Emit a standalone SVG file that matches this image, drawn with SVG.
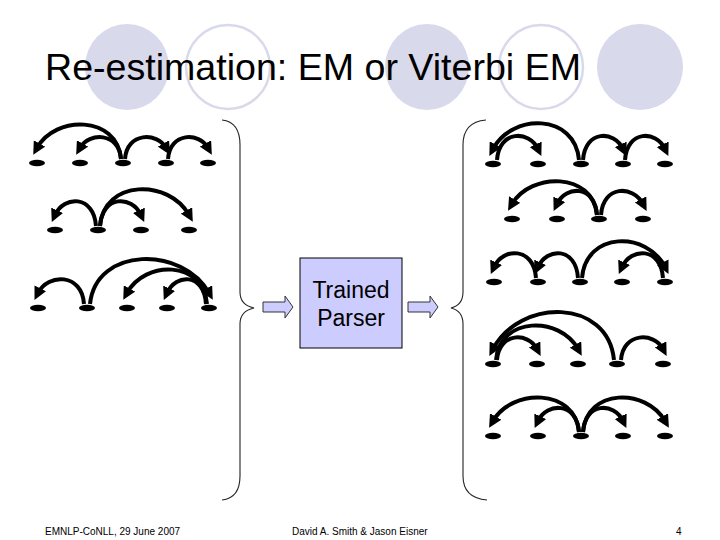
<svg xmlns="http://www.w3.org/2000/svg" width="720" height="540" viewBox="0 0 720 540">
<defs>
<style>
.t{font-family:"Liberation Sans",Arial,sans-serif;fill:#000}
.arc{fill:none;stroke:#000;stroke-width:4;marker-end:url(#ah)}
.d{fill:#000}
.cf{fill:#d9d9ec}
.co{fill:#fff;stroke:#d9d9ec;stroke-width:2.5}
.br{fill:none;stroke:#222;stroke-width:1.1}
.blk{fill:#ccccff;stroke:#333;stroke-width:1}
</style>
<marker id="ah" viewBox="0 0 10 10" refX="4" refY="5" markerWidth="13" markerHeight="13" markerUnits="userSpaceOnUse" orient="auto">
<path d="M0,0 L10,5 L0,10 z" fill="#000"/>
</marker>
</defs>
<rect width="720" height="540" fill="#fff"/>
<g id="title">
<ellipse class="cf" cx="127" cy="67" rx="42" ry="43"/>
<ellipse class="co" cx="228" cy="67" rx="42" ry="42"/>
<ellipse class="cf" cx="427" cy="67" rx="42" ry="43"/>
<ellipse class="co" cx="541" cy="67" rx="42" ry="42"/>
<ellipse class="cf" cx="640" cy="67" rx="43" ry="43"/>
<text class="t" x="45" y="80" font-size="37.6">Re-estimation: EM or Viterbi EM</text>
</g>
<g id="left-brace"><path class="br" d="M222,120 Q240,122 240,145 L240,292 Q240,305 254,308 Q240,311 240,324 L240,476 Q240,498 222,500"/></g>
<g id="right-brace"><path class="br" d="M486,120 Q463,122 463,145 L463,292 Q463,305 451,308 Q463,311 463,324 L463,476 Q463,498 487,500"/></g>
<g id="arrow-in"><path class="blk" d="M263,302 L285,302 L285,296 L293,307 L285,318 L285,312 L263,312 z"/></g>
<g id="parser">
<rect x="300" y="258" width="102" height="90" fill="#ccccff" stroke="#000" stroke-width="1"/>
<text class="t" x="351" y="298" font-size="23" text-anchor="middle">Trained</text>
<text class="t" x="351" y="326" font-size="23" text-anchor="middle">Parser</text>
</g>
<g id="arrow-out"><path class="blk" d="M408,302 L430,302 L430,296 L438,307 L430,318 L430,312 L408,312 z"/></g>
<g id="nodes">
<g id="L1"><ellipse class="d" cx="37" cy="163" rx="8" ry="3.2"/><ellipse class="d" cx="80" cy="163" rx="8" ry="3.2"/><ellipse class="d" cx="123" cy="163" rx="8" ry="3.2"/><ellipse class="d" cx="166" cy="163" rx="8" ry="3.2"/><ellipse class="d" cx="208" cy="163" rx="8" ry="3.2"/></g>
<g id="L2"><ellipse class="d" cx="55" cy="230" rx="8" ry="3.2"/><ellipse class="d" cx="98" cy="230" rx="8" ry="3.2"/><ellipse class="d" cx="141" cy="230" rx="8" ry="3.2"/><ellipse class="d" cx="189" cy="230" rx="8" ry="3.2"/></g>
<g id="L3"><ellipse class="d" cx="38" cy="308" rx="8" ry="3.2"/><ellipse class="d" cx="87" cy="308" rx="8" ry="3.2"/><ellipse class="d" cx="127" cy="308" rx="8" ry="3.2"/><ellipse class="d" cx="167" cy="308" rx="8" ry="3.2"/><ellipse class="d" cx="209" cy="308" rx="8" ry="3.2"/></g>
<g id="R1"><ellipse class="d" cx="493" cy="164" rx="8" ry="3.2"/><ellipse class="d" cx="538" cy="164" rx="8" ry="3.2"/><ellipse class="d" cx="581" cy="164" rx="8" ry="3.2"/><ellipse class="d" cx="623" cy="164" rx="8" ry="3.2"/><ellipse class="d" cx="665" cy="164" rx="8" ry="3.2"/></g>
<g id="R2"><ellipse class="d" cx="512" cy="219" rx="8" ry="3.2"/><ellipse class="d" cx="557" cy="219" rx="8" ry="3.2"/><ellipse class="d" cx="599" cy="219" rx="8" ry="3.2"/><ellipse class="d" cx="643" cy="219" rx="8" ry="3.2"/></g>
<g id="R3"><ellipse class="d" cx="494" cy="282" rx="8" ry="3.2"/><ellipse class="d" cx="538" cy="282" rx="8" ry="3.2"/><ellipse class="d" cx="580" cy="282" rx="8" ry="3.2"/><ellipse class="d" cx="622" cy="282" rx="8" ry="3.2"/><ellipse class="d" cx="665" cy="282" rx="8" ry="3.2"/></g>
<g id="R4"><ellipse class="d" cx="493" cy="364" rx="8" ry="3.2"/><ellipse class="d" cx="537" cy="364" rx="8" ry="3.2"/><ellipse class="d" cx="578" cy="364" rx="8" ry="3.2"/><ellipse class="d" cx="617" cy="364" rx="8" ry="3.2"/><ellipse class="d" cx="663" cy="364" rx="8" ry="3.2"/></g>
<g id="R5"><ellipse class="d" cx="493" cy="436" rx="8" ry="3.2"/><ellipse class="d" cx="538" cy="436" rx="8" ry="3.2"/><ellipse class="d" cx="581" cy="436" rx="8" ry="3.2"/><ellipse class="d" cx="623" cy="436" rx="8" ry="3.2"/><ellipse class="d" cx="665" cy="436" rx="8" ry="3.2"/></g>
</g>
<g id="connectors">
<path class="arc" d="M121,159 C117,115 55,115 37,148"/>
<path class="arc" d="M121,159 C119,132 89,132 80,148"/>
<path class="arc" d="M125,159 C127,132 157,132 166,148"/>
<path class="arc" d="M168,159 C170,132 199,132 208,148"/>
<path class="arc" d="M96,226 C94,195 64,195 55,215"/>
<path class="arc" d="M100,226 C102,195 132,195 141,215"/>
<path class="arc" d="M100,226 C104,179 169,179 189,215"/>
<path class="arc" d="M84,304 C82,273 48,273 38,293"/>
<path class="arc" d="M90,304 C96,246 183,246 209,293"/>
<path class="arc" d="M207,304 C203,260 145,260 127,293"/>
<path class="arc" d="M206,304 C204,273 176,273 167,293"/>
<path class="arc" d="M579,160 C575,113 512,113 493,149"/>
<path class="arc" d="M497,160 C499,130 529,130 538,149"/>
<path class="arc" d="M583,160 C585,130 614,130 623,149"/>
<path class="arc" d="M625,160 C627,130 656,130 665,149"/>
<path class="arc" d="M597,215 C593,172 531,172 512,204"/>
<path class="arc" d="M597,215 C595,185 566,185 557,204"/>
<path class="arc" d="M601,215 C603,185 633,185 643,204"/>
<path class="arc" d="M536,278 C534,247 503,247 494,267"/>
<path class="arc" d="M578,278 C576,247 547,247 538,267"/>
<path class="arc" d="M582,278 C586,231 647,231 665,267"/>
<path class="arc" d="M663,278 C661,247 631,247 622,267"/>
<path class="arc" d="M614,360 C608,298 520,298 493,349"/>
<path class="arc" d="M496,360 C500,316 560,316 578,349"/>
<path class="arc" d="M497,360 C499,332 528,332 537,349"/>
<path class="arc" d="M621,360 C623,332 654,332 663,349"/>
<path class="arc" d="M579,432 C575,388 512,388 493,421"/>
<path class="arc" d="M579,432 C577,402 547,402 538,421"/>
<path class="arc" d="M583,432 C585,402 614,402 623,421"/>
<path class="arc" d="M583,432 C587,388 646,388 665,421"/>
</g>
<g id="footer">
<text class="t" x="45" y="535" font-size="10">EMNLP-CoNLL, 29 June 2007</text>
<text class="t" x="292" y="535" font-size="10">David A. Smith &amp; Jason Eisner</text>
<text class="t" x="676" y="535" font-size="10">4</text>
</g>
</svg>
